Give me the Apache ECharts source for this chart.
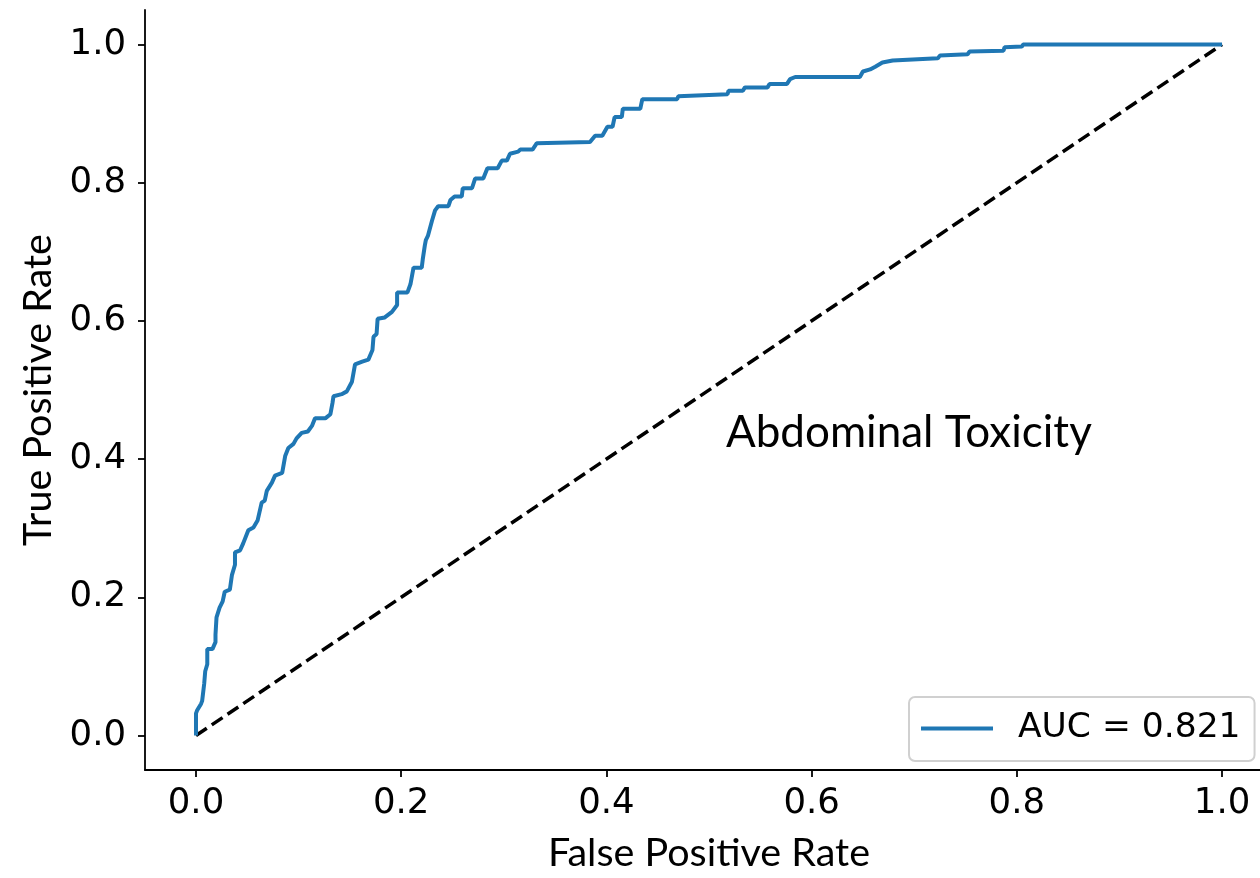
<!DOCTYPE html>
<html>
<head>
<meta charset="utf-8">
<script src="https://cdn.jsdelivr.net/npm/echarts@6/dist/echarts.min.js"></script>
<style>
html,body{margin:0;padding:0;background:#fff;}
#chart{width:1260px;height:878px;}
</style>
</head>
<body>
<div id="chart"></div>
<script>
// ROC curve points (false positive rate, true positive rate)
const fpr = [0,0,0.001,0.005,0.006,0.008,0.009,0.011,0.011,0.016,0.019,0.019,0.020,0.023,0.026,0.028,0.033,0.035,0.038,0.038,
0.043,0.046,0.051,0.056,0.060,0.064,0.067,0.069,0.074,0.077,0.084,0.087,0.090,0.095,0.098,0.103,0.109,0.113,0.116,0.126,
0.131,0.133,0.134,0.142,0.147,0.152,0.155,0.162,0.168,0.172,0.173,0.176,0.177,0.184,0.191,0.196,0.196,0.206,0.209,0.212,
0.220,0.221,0.223,0.224,0.226,0.230,0.233,0.236,0.246,0.248,0.252,0.259,0.260,0.269,0.272,0.280,0.284,0.294,0.298,0.303,
0.306,0.314,0.316,0.328,0.332,0.333,0.384,0.389,0.396,0.401,0.406,0.408,0.415,0.416,0.433,0.435,0.469,0.470,0.518,0.519,
0.533,0.535,0.557,0.559,0.576,0.579,0.584,0.647,0.650,0.657,0.662,0.669,0.679,0.723,0.725,0.752,0.754,0.787,0.788,0.805,
0.806,1.0];
const tpr = [0,0.032,0.036,0.046,0.050,0.075,0.093,0.103,0.125,0.125,0.135,0.146,0.171,0.185,0.194,0.208,0.211,0.232,0.247,0.265,
0.268,0.278,0.297,0.301,0.311,0.337,0.340,0.354,0.366,0.376,0.380,0.405,0.416,0.422,0.430,0.438,0.440,0.448,0.459,0.459,
0.465,0.481,0.491,0.494,0.498,0.512,0.537,0.541,0.544,0.558,0.577,0.581,0.603,0.605,0.613,0.623,0.641,0.641,0.653,0.677,
0.677,0.689,0.709,0.717,0.723,0.745,0.760,0.766,0.766,0.775,0.780,0.780,0.792,0.792,0.806,0.806,0.821,0.821,0.832,0.832,
0.842,0.845,0.848,0.848,0.857,0.859,0.859,0.868,0.868,0.881,0.881,0.895,0.895,0.907,0.907,0.921,0.921,0.925,0.928,0.933,
0.933,0.938,0.938,0.943,0.943,0.950,0.953,0.953,0.961,0.964,0.968,0.974,0.977,0.980,0.984,0.986,0.990,0.991,0.996,0.997,
1.0,1.0];
const chanceX = [0, 1];
const chanceY = [0, 1];
const tickValues = [0, 0.2, 0.4, 0.6, 0.8, 1.0];
const aucLabel = 'AUC = 0.821';
const annotation = 'Abdominal Toxicity';
const xName = 'False Positive Rate';
const yName = 'True Positive Rate';

const rocData = fpr.map((x, i) => [x, tpr[i]]);
const chanceData = chanceX.map((x, i) => [x, chanceY[i]]);

const tickFont = 'DejaVu Sans';
const nameFont = 'Lato';

const chart = echarts.init(document.getElementById('chart'), null, {renderer: 'canvas'});
const axisCommon = {
  type: 'value',
  nameLocation: 'middle',
  nameTextStyle: {fontFamily: nameFont, fontSize: 39.5, color: '#000'},
  axisLine: {show: true, onZero: false, lineStyle: {color: '#000', width: 1.8}},
  axisTick: {show: true, customValues: tickValues, length: 7, lineStyle: {color: '#000', width: 1.8}},
  axisLabel: {customValues: tickValues, fontFamily: tickFont, fontSize: 35.5, color: '#000',
              formatter: v => v.toFixed(1)},
  splitLine: {show: false}
};
chart.setOption({
  animation: false,
  backgroundColor: '#fff',
  grid: {left: 145, top: 10, right: 0, bottom: 101, containLabel: false},
  title: {
    text: annotation, left: 721, top: 406,
    textStyle: {fontFamily: nameFont, fontSize: 44, fontWeight: 'normal', color: '#000'}
  },
  legend: {
    data: [aucLabel],
    left: 909, top: 697,
    orient: 'vertical',
    icon: 'rect',
    itemWidth: 72, itemHeight: 4,
    itemGap: 0,
    padding: [14, 14, 15, 12],
    borderColor: '#d0d0d0', borderWidth: 2, borderRadius: 6,
    backgroundColor: '#fff',
    textStyle: {fontFamily: tickFont, fontSize: 34.5, color: '#000', padding: [0, 0, 0, 20]}
  },
  xAxis: Object.assign({}, axisCommon, {
    min: -0.0497, max: 1.037,
    name: xName, nameGap: 63,
    nameTextStyle: Object.assign({}, axisCommon.nameTextStyle, {padding: [0, 0, 0, 13]}),
    axisLabel: Object.assign({}, axisCommon.axisLabel, {margin: 16})
  }),
  yAxis: Object.assign({}, axisCommon, {
    min: -0.05, max: 1.05,
    name: yName, nameGap: 86,
    axisLabel: Object.assign({}, axisCommon.axisLabel, {margin: 19})
  }),
  series: [
    {
      name: aucLabel, type: 'line', data: rocData, symbol: 'none',
      lineStyle: {color: '#1f77b4', width: 4}, itemStyle: {color: '#1f77b4'}, z: 3
    },
    {
      name: 'chance', type: 'line', data: chanceData, symbol: 'none',
      lineStyle: {color: '#000', width: 3.5, type: [13, 6]}, itemStyle: {color: '#000'}, z: 2
    }
  ]
});
</script>
</body>
</html>
